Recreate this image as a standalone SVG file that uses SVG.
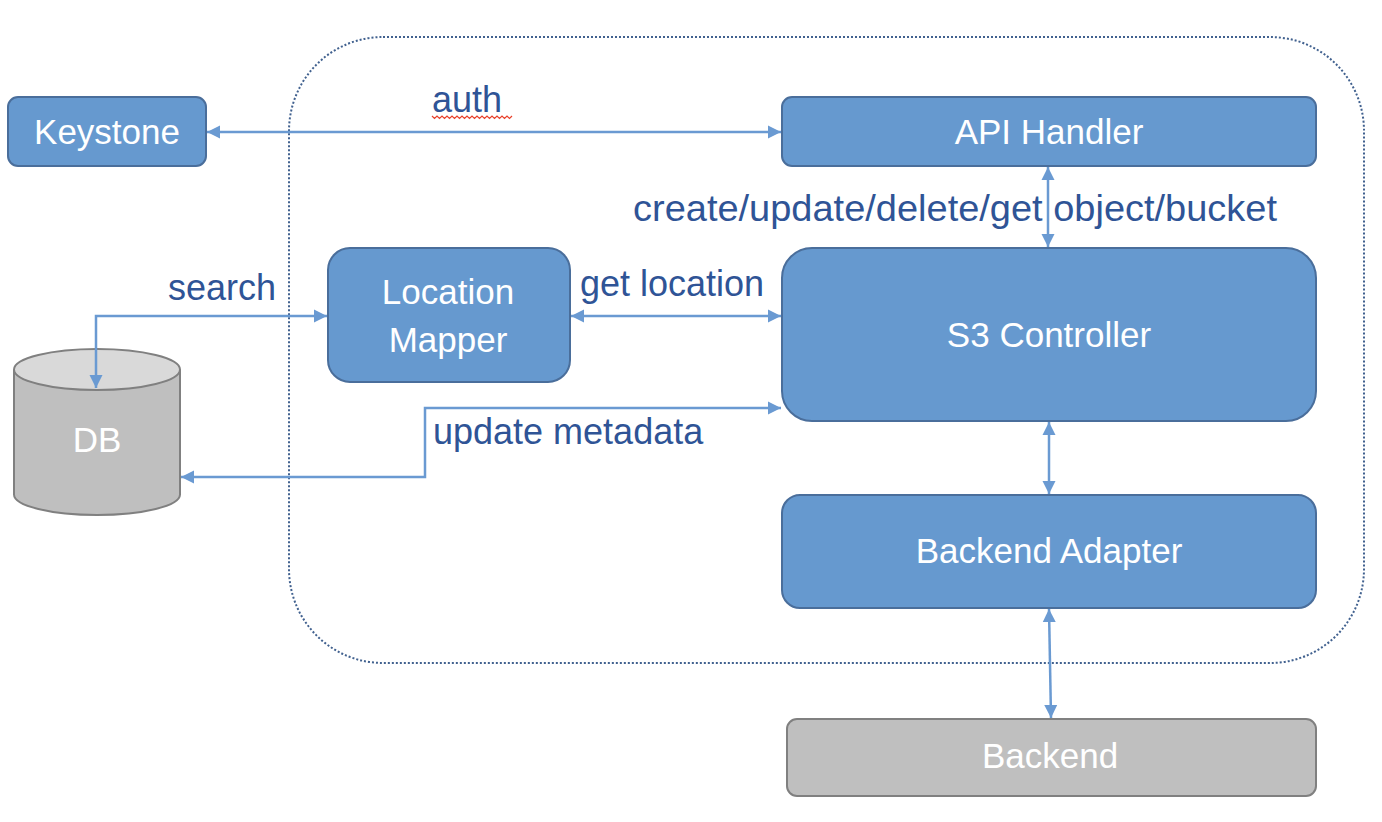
<svg xmlns="http://www.w3.org/2000/svg" width="1382" height="822" viewBox="0 0 1382 822">
<defs>
<marker id="ah" markerUnits="userSpaceOnUse" markerWidth="14" markerHeight="14" refX="13" refY="7" orient="auto-start-reverse">
<path d="M0,0.5 L13,7 L0,13.5 z" fill="#6a9ad2"/>
</marker>
<style>
.node{fill:#6699cf;stroke:#4a6e9b;stroke-width:2}
.gray{fill:#bfbfbf;stroke:#808080;stroke-width:2}
.nt{font-family:"Liberation Sans",Arial,sans-serif;font-size:35px;fill:#ffffff;text-anchor:middle}
.lb{font-family:"Liberation Sans",Arial,sans-serif;font-size:36px;fill:#2f5496}
.cn{fill:none;stroke:#6a9ad2;stroke-width:2.5;marker-start:url(#ah);marker-end:url(#ah)}
</style>
</defs>
<rect width="1382" height="822" fill="#ffffff"/>
<g id="container">
<rect x="289" y="37" width="1075" height="626" rx="94" ry="94" fill="none" stroke="#41618f" stroke-width="2" stroke-dasharray="2 2"/>
</g>
<g id="db">
<path class="gray" d="M14,369.5 L14,494.5 A83,20.5 0 0 0 180,494.5 L180,369.5"/>
<ellipse cx="97" cy="369.5" rx="83" ry="20.5" fill="#d9d9d9" stroke="#808080" stroke-width="2"/>
<text class="nt" x="97" y="452">DB</text>
</g>
<g id="keystone">
<rect class="node" x="8" y="97" width="198" height="69" rx="10"/>
<text class="nt" x="107" y="144">Keystone</text>
</g>
<g id="api-handler">
<rect class="node" x="782" y="97" width="534" height="69" rx="10"/>
<text class="nt" x="1049" y="144">API Handler</text>
</g>
<g id="location-mapper">
<rect class="node" x="328" y="248" width="242" height="134" rx="22"/>
<text class="nt" x="448" y="304">Location</text>
<text class="nt" x="448" y="352">Mapper</text>
</g>
<g id="s3-controller">
<rect class="node" x="782" y="248" width="534" height="173" rx="30"/>
<text class="nt" x="1049" y="347">S3 Controller</text>
</g>
<g id="backend-adapter">
<rect class="node" x="782" y="495" width="534" height="113" rx="18"/>
<text class="nt" x="1049" y="563">Backend Adapter</text>
</g>
<g id="backend">
<rect class="gray" x="787" y="719" width="529" height="77" rx="10"/>
<text class="nt" x="1050" y="768">Backend</text>
</g>
<g id="connectors">
<line class="cn" x1="207" y1="132" x2="781" y2="132"/>
<line class="cn" x1="1048" y1="167" x2="1048" y2="247"/>
<polyline class="cn" points="96,388 96,316 327,316"/>
<line class="cn" x1="571" y1="316" x2="781" y2="316"/>
<polyline class="cn" points="781,408 425,408 425,477 181,477"/>
<line class="cn" x1="1049" y1="422" x2="1049" y2="494"/>
<line class="cn" x1="1049" y1="609" x2="1051" y2="718"/>
</g>
<g id="labels">
<text class="lb" x="432" y="112">auth</text>
<path d="M432,116 l2.5,2.5 l2.5,-2.5 l2.5,2.5 l2.5,-2.5 l2.5,2.5 l2.5,-2.5 l2.5,2.5 l2.5,-2.5 l2.5,2.5 l2.5,-2.5 l2.5,2.5 l2.5,-2.5 l2.5,2.5 l2.5,-2.5 l2.5,2.5 l2.5,-2.5 l2.5,2.5 l2.5,-2.5 l2.5,2.5 l2.5,-2.5 l2.5,2.5 l2.5,-2.5 l2.5,2.5 l2.5,-2.5 l2.5,2.5 l2.5,-2.5 l2.5,2.5 l2.5,-2.5 l2.5,2.5 l2.5,-2.5 l2.5,2.5 l2.5,-2.5" fill="none" stroke="#e8412b" stroke-width="1.2"/>
<text class="lb" x="633" y="221" textLength="644" lengthAdjust="spacingAndGlyphs">create/update/delete/get object/bucket</text>
<text class="lb" x="168" y="300">search</text>
<text class="lb" x="580" y="296">get location</text>
<text class="lb" x="433" y="444">update metadata</text>
</g>
</svg>
